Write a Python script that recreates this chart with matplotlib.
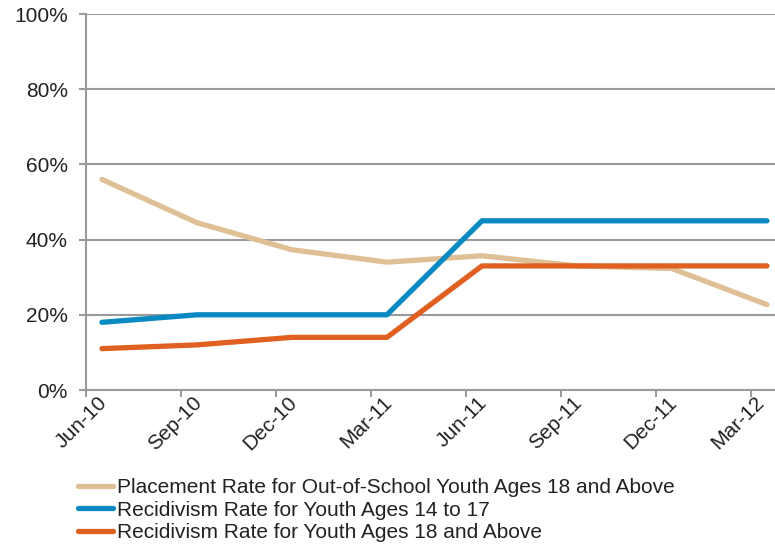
import matplotlib.pyplot as plt
import matplotlib.transforms as mtransforms
from matplotlib.ticker import FixedLocator

plt.rcParams['font.family'] = ['Liberation Sans', 'DejaVu Sans']

# 季度数据
quarters = ['Jun-10', 'Sep-10', 'Dec-10', 'Mar-11', 'Jun-11', 'Sep-11', 'Dec-11', 'Mar-12']
placement_18_plus = [56, 44.5, 37.3, 34, 35.7, 33, 32.3, 22.7]
recid_14_17 = [18, 20, 20, 20, 45, 45, 45, 45]
recid_18_plus = [11, 12, 14, 14, 33, 33, 33, 33]

labels = [
    'Placement Rate for Out-of-School Youth Ages 18 and Above',
    'Recidivism Rate for Youth Ages 14 to 17',
    'Recidivism Rate for Youth Ages 18 and Above',
]
colors = ['#DFC096', '#0A8AC2', '#DF6020']
grid_col = '#9A9A9A'
text_col = '#222222'
fs = 15

fig = plt.figure(figsize=(7.75, 5.46), dpi=100)
ax = fig.add_axes([86 / 775, 1 - 390 / 546, 1 - 86 / 775, (390 - 14) / 546])

x = list(range(len(quarters)))
for series, lab, col in zip([placement_18_plus, recid_14_17, recid_18_plus], labels, colors):
    ax.plot(x, series, color=col, lw=3.8, label=lab, solid_capstyle='round',
            solid_joinstyle='round')

off = 0.168
ax.set_xlim(-off, -off + 689 / 95)
ax.set_ylim(0, 100)

# 刻度线在类别分界处，标签在数据点处
ax.xaxis.set_major_locator(FixedLocator(x))
ax.set_xticklabels(quarters, rotation=45, ha='right', va='center', rotation_mode='anchor',
                   fontsize=fs, color=text_col)
ax.xaxis.set_minor_locator(FixedLocator([i - off for i in x]))
ax.tick_params(axis='x', which='major', length=0, pad=7)
ax.tick_params(axis='x', which='minor', length=5, width=1.5, color=grid_col, direction='out')
tick_labels = ax.get_xticklabels()
for k, lbl in enumerate(tick_labels):
    # 最后一个标签左移，避免超出画布右边
    dx = -6 if k == len(tick_labels) - 1 else 2
    shift = mtransforms.ScaledTranslation(dx / 100, 0, fig.dpi_scale_trans)
    lbl.set_transform(lbl.get_transform() + shift)

ax.set_yticks(range(0, 101, 20))
ax.set_yticklabels([f'{v}%' for v in range(0, 101, 20)], fontsize=fs, color=text_col)
ax.tick_params(axis='y', length=5, width=1.5, color=grid_col, direction='out', pad=8)
ax.yaxis.grid(True, color=grid_col, lw=1.5)
ax.set_axisbelow(True)

for s in ['top', 'right']:
    ax.spines[s].set_visible(False)
for s in ['left', 'bottom']:
    ax.spines[s].set_color(grid_col)
    ax.spines[s].set_linewidth(1.5)

leg = fig.legend(loc='upper left', bbox_to_anchor=(78 / 775, 1 - 478 / 546), frameon=False,
                 fontsize=fs, handlelength=1.7, handletextpad=0.15, labelspacing=0.17,
                 borderpad=0, borderaxespad=0)
for t in leg.get_texts():
    t.set_color(text_col)

plt.savefig('out.png', dpi=100)
